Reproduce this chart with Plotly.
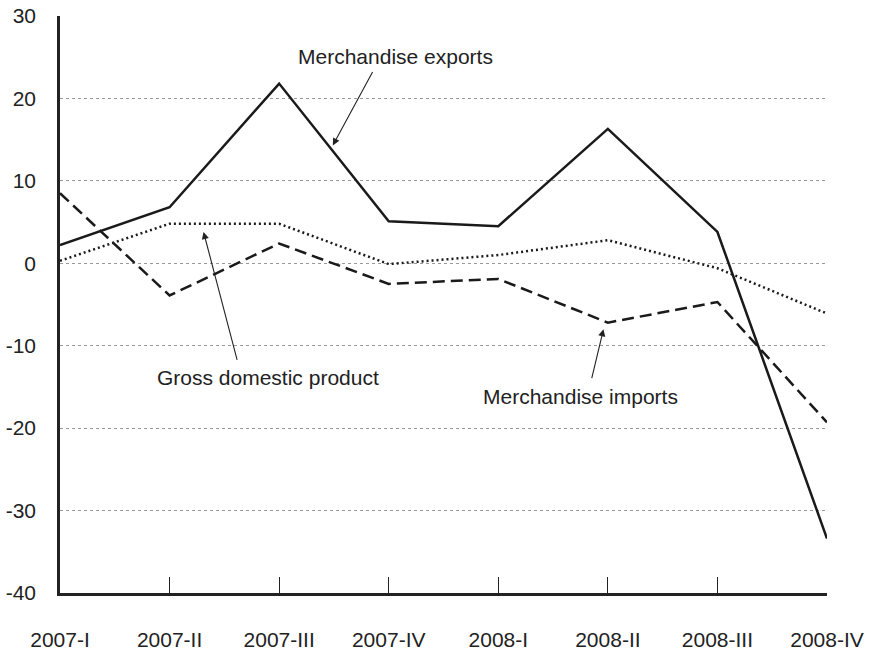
import plotly.graph_objects as go

quarters = ["2007-I", "2007-II", "2007-III", "2007-IV", "2008-I", "2008-II", "2008-III", "2008-IV"]
exports = [2.2, 6.8, 21.8, 5.1, 4.5, 16.3, 3.8, -33.4]
gdp = [0.3, 4.8, 4.8, -0.1, 1.0, 2.8, -0.6, -6.1]
imports = [8.5, -3.9, 2.4, -2.5, -1.9, -7.2, -4.7, -19.3]
y_ticks = [30, 20, 10, 0, -10, -20, -30, -40]

xpos = list(range(len(quarters)))

fig = go.Figure()
fig.add_trace(go.Scatter(x=xpos, y=gdp, mode="lines",
                         line=dict(color="#1a1a1a", width=2.5, dash="2px,3px"),
                         name="Gross domestic product"))
fig.add_trace(go.Scatter(x=xpos, y=imports, mode="lines",
                         line=dict(color="#1a1a1a", width=2.5, dash="12px,6px"),
                         name="Merchandise imports"))
fig.add_trace(go.Scatter(x=xpos, y=exports, mode="lines",
                         line=dict(color="#1a1a1a", width=2.5),
                         name="Merchandise exports"))

font = dict(family="Liberation Sans, Arial, sans-serif", size=21, color="#222")

def note(text, tx, ty, hx, hy, lx, ly):
    fig.add_annotation(x=tx, y=ty, xref="x", yref="y", text=text, showarrow=False,
                       font=font)
    fig.add_annotation(x=hx, y=hy, ax=lx, ay=ly, xref="x", yref="y", axref="x", ayref="y",
                       text="", showarrow=True, arrowhead=2, arrowsize=1.3, arrowwidth=1.1,
                       arrowcolor="#222", standoff=0, startstandoff=0)

note("Merchandise exports", 3.06, 25.1, 2.49, 14.3, 2.86, 23.4)
note("Gross domestic product", 1.90, -13.8, 1.31, 3.8, 1.62, -11.9)
note("Merchandise imports", 4.75, -16.1, 4.96, -8.0, 4.85, -14.1)

fig.update_layout(
    width=869, height=652,
    margin=dict(l=60, r=42, t=16, b=59, autoexpand=False),
    paper_bgcolor="white", plot_bgcolor="white",
    showlegend=False,
    font=font,
    xaxis=dict(range=[0, 7], tickvals=xpos, ticktext=quarters,
               showgrid=False, zeroline=False, automargin=False,
               showline=True, linecolor="#222", linewidth=2.5,
               ticks="inside", ticklen=16, tickwidth=1, tickcolor="#222",
               ticklabelstandoff=26, tickfont=font),
    yaxis=dict(range=[-40, 30], tickvals=y_ticks, ticktext=[str(v) for v in y_ticks],
               showgrid=True, gridcolor="#999", gridwidth=1, griddash="dot",
               zeroline=False, automargin=False,
               showline=True, linecolor="#222", linewidth=2.5,
               ticks="", ticklabelstandoff=17, tickfont=font),
)

fig.write_html("out.html", config={"displayModeBar": False},
               post_script="document.body.style.margin='0';document.body.style.overflow='hidden';")
